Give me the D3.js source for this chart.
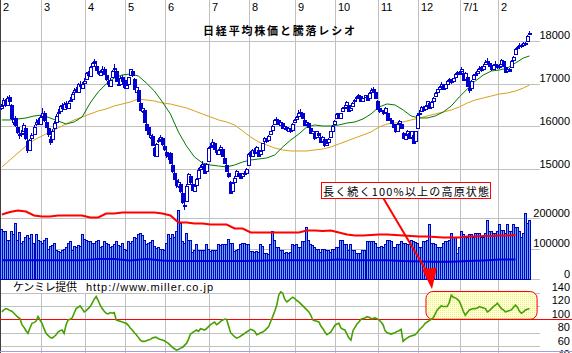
<!DOCTYPE html>
<html lang="ja">
<head>
  <meta charset="UTF-8">
  <title>日経平均株価と騰落レシオ</title>
  <script src="https://d3js.org/d3.v7.min.js"></script>
  <style>
    body { margin: 0; background: #fff; }
    svg { display: block; }
    text { font-family: "Liberation Sans", Arial, sans-serif; font-size: 11px; fill: #000; }
    .jp { font-family: "Noto Sans CJK JP", sans-serif; }
  </style>
</head>
<body>
<div id="chart"></div>
<script>
// month labels and trading days per month (Feb 2006 .. Feb 2007)
var monthLabels = ["2", "3", "4", "5", "6", "7", "8", "9", "10", "11", "12", "7/1", "2"];
var monthDays = [20, 22, 20, 20, 22, 20, 23, 20, 21, 20, 21, 19, 16];

// daily candles [open, high, low, close]
var candles = [
  // Feb
  [16420,16520,16380,16470],[16500,16660,16480,16620],[16600,16640,16450,16520],[16500,16700,16490,16650],[16680,16720,16540,16580],
  [16500,16520,16150,16190],[16100,16250,16030,16170],[16200,16230,15980,16020],[15980,16020,15820,15870],[15820,15900,15700,15790],
  [15830,15920,15760,15840],[15900,16080,15880,16020],[15950,15980,15690,15720],[15650,15700,15380,15440],[15450,15710,15420,15680],
  [15720,15850,15640,15800],[15830,16020,15800,15990],[16050,16180,16000,16110],[16150,16200,16020,16080],[16050,16260,16040,16210],
  // Mar
  [16250,16420,16220,16300],[16320,16350,16100,16150],[16100,16150,15950,15990],[15950,16000,15760,15820],[15700,15780,15560,15640],
  [15700,15930,15680,15900],[15950,16120,15900,16080],[16100,16280,16080,16250],[16300,16400,16250,16330],[16350,16500,16320,16480],
  [16500,16540,16380,16420],[16400,16560,16380,16530],[16550,16580,16420,16460],[16420,16580,16400,16550],[16600,16680,16560,16620],
  [16640,16800,16620,16760],[16800,16900,16760,16850],[16880,16920,16780,16830],[16800,17020,16790,16980],[17000,17050,16890,16930],
  [16900,17030,16880,17000],[17020,17120,16980,17060],
  // Apr
  [17100,17260,17080,17240],[17280,17300,17150,17200],[17180,17400,17160,17380],[17400,17500,17370,17470],[17520,17563,17420,17490],
  [17420,17450,17290,17320],[17300,17350,17200,17240],[17200,17320,17180,17280],[17300,17400,17260,17330],[17350,17380,17210,17230],
  [17200,17230,17060,17100],[17050,17080,16920,16980],[16950,17120,16930,17090],[17150,17320,17130,17300],[17350,17450,17300,17360],
  [17300,17320,17030,17050],[17000,17080,16940,16990],[17000,17170,16980,17140],[17150,17190,17010,17050],[17080,17120,16880,16910],
  // May
  [16900,17000,16860,16960],[16980,17160,16950,17150],[17200,17350,17180,17330],[17300,17320,17150,17190],[17100,17120,16850,16870],
  [16800,16960,16780,16920],[16850,16880,16580,16600],[16550,16580,16350,16390],[16350,16460,16300,16420],[16380,16400,16080,16100],
  [16050,16100,15880,15920],[15980,16000,15800,15830],[15750,15900,15700,15800],[15780,15820,15530,15570],[15500,15520,15280,15330],
  [15300,15620,15280,15590],[15650,15720,15600,15680],[15700,15800,15650,15760],[15720,15740,15550,15580],[15550,15600,15420,15470],
  // Jun
  [15400,15450,15250,15330],[15350,15400,15220,15300],[15380,15400,15120,15150],[15100,15150,14920,14950],[14900,14950,14740,14780],
  [14750,14800,14560,14630],[14600,14760,14550,14700],[14650,14700,14450,14500],[14450,14480,14180,14220],[14150,14300,14045,14170],
  [14250,14650,14230,14600],[14650,14900,14620,14880],[14850,14880,14650,14700],[14650,14700,14480,14520],[14480,14650,14460,14600],
  [14620,14800,14600,14780],[14800,15020,14780,14990],[15000,15100,14950,15050],[15080,15200,15050,15120],[15100,15130,14880,14900],
  [14950,15150,14930,15120],[15200,15520,15180,15500],
  // Jul
  [15550,15620,15480,15530],[15560,15700,15540,15630],[15600,15620,15450,15480],[15450,15480,15330,15390],[15350,15480,15330,15440],
  [15480,15560,15450,15520],[15480,15500,15280,15300],[15250,15280,15120,15150],[15100,15130,14930,14960],[14900,14950,14800,14850],
  [14700,14720,14430,14440],[14500,14700,14480,14680],[14700,14830,14680,14800],[14850,14980,14830,14950],[14900,14920,14820,14850],
  [14800,14870,14760,14820],[14850,14920,14830,14900],[14920,14950,14850,14880],[14900,15030,14880,15000],[15100,15380,15080,15350],
  // Aug
  [15400,15420,15250,15300],[15300,15480,15280,15450],[15450,15500,15350,15380],[15400,15550,15380,15520],[15450,15480,15280,15300],
  [15350,15450,15320,15420],[15450,15620,15430,15600],[15650,15750,15620,15720],[15700,15720,15600,15650],[15680,15800,15660,15780],
  [15820,15900,15800,15880],[15920,16020,15900,16000],[16050,16170,16030,16150],[16180,16220,16100,16180],[16150,16170,16020,16050],
  [16020,16120,16000,16100],[16080,16100,15930,15950],[15950,16030,15920,16000],[15980,16000,15900,15930],[15900,15980,15880,15960],
  [15950,15960,15850,15890],[15920,16070,15900,16050],[16100,16180,16080,16150],
  // Sep
  [16180,16250,16150,16220],[16250,16380,16230,16300],[16320,16400,16280,16330],[16300,16320,16180,16200],[16150,16170,16000,16030],
  [16050,16130,16030,16100],[16080,16100,15950,15980],[15950,15980,15820,15850],[15850,15930,15830,15900],[15850,15870,15690,15720],
  [15750,15900,15730,15880],[15850,15870,15770,15800],[15750,15780,15600,15640],[15650,15780,15630,15750],[15700,15720,15520,15560],
  [15560,15650,15540,15620],[15640,15730,15620,15710],[15750,15900,15730,15880],[15900,16020,15880,16000],[16050,16150,16030,16130],
  // Oct
  [16200,16320,16180,16280],[16300,16320,16180,16220],[16200,16320,16190,16300],[16350,16440,16330,16420],[16450,16500,16400,16460],
  [16500,16580,16480,16560],[16500,16520,16330,16350],[16380,16450,16360,16430],[16470,16560,16450,16540],[16580,16640,16550,16620],
  [16650,16700,16620,16680],[16700,16760,16680,16720],[16700,16720,16580,16600],[16600,16670,16580,16650],[16680,16740,16660,16720],
  [16700,16720,16600,16620],[16650,16800,16630,16780],[16800,16900,16780,16850],[16880,16920,16790,16820],[16800,16820,16640,16660],
  [16600,16620,16380,16400],
  // Nov
  [16420,16450,16320,16350],[16380,16420,16330,16380],[16350,16370,16270,16300],[16330,16450,16310,16420],[16300,16320,16130,16150],
  [16180,16250,16150,16200],[16150,16170,16050,16080],[16050,16080,15950,15980],[15950,15980,15850,15880],[15900,16080,15880,16060],
  [16080,16150,16060,16120],[16050,16080,15930,15950],[15850,15870,15700,15720],[15700,15800,15680,15790],[15820,15920,15800,15900],
  [15850,15870,15700,15730],[15750,15900,15730,15880],[15800,15820,15600,15620],[15650,15900,15630,15890],[15950,16300,15940,16270],
  // Dec
  [16300,16380,16270,16310],[16350,16470,16330,16450],[16450,16480,16360,16390],[16400,16500,16380,16480],[16500,16600,16480,16580],
  [16550,16570,16400,16420],[16450,16580,16430,16560],[16580,16680,16560,16650],[16700,16800,16680,16780],[16800,16880,16780,16860],
  [16880,16950,16860,16920],[16950,17030,16930,17000],[16980,17000,16850,16880],[16900,17000,16880,16980],[17000,17080,16980,17050],
  [17080,17140,17060,17110],[17080,17100,17000,17030],[17050,17140,17030,17120],[17150,17250,17130,17230],[17250,17300,17220,17260],
  [17280,17300,17200,17230],
  // Jan
  [17300,17380,17270,17350],[17250,17280,17060,17090],[17100,17260,17080,17240],[17150,17180,16920,16940],[16900,16950,16780,16840],
  [16900,17080,16880,17060],[17100,17220,17080,17200],[17220,17260,17150,17210],[17250,17330,17230,17300],[17330,17400,17310,17370],
  [17380,17400,17280,17310],[17350,17450,17330,17420],[17450,17540,17430,17500],[17520,17600,17480,17510],[17480,17500,17390,17420],
  [17380,17400,17300,17330],[17350,17460,17330,17440],[17450,17530,17430,17460],[17430,17460,17350,17380],
  // Feb
  [17400,17450,17350,17420],[17450,17580,17430,17550],[17520,17540,17380,17400],[17380,17400,17250,17280],[17300,17370,17280,17350],
  [17330,17360,17260,17300],[17380,17540,17370,17520],[17560,17650,17540,17620],[17700,17820,17680,17800],[17820,17880,17800,17850],
  [17870,17940,17860,17900],[17900,17920,17840,17880],[17900,17960,17880,17940],[17950,17970,17880,17920],[18000,18130,17990,18110],
  [18150,18230,18130,18190]
];

// daily volume
var volume = [
  166000,160000,157000,130000,128000,157000,150000,186000,130000,155000,
  120000,125000,140000,145000,135000,150000,120000,150000,130000,125000,
  120000,130000,135000,100000,110000,112000,120000,97000,92000,90000,
  95000,100000,105000,118000,124000,97000,110000,105000,112000,108000,
  147000,133000,128000,124000,124000,118000,120000,127000,130000,107000,
  110000,124000,118000,115000,107000,110000,115000,124000,112000,108000,
  120000,100000,97000,124000,120000,126000,140000,135000,150000,153000,
  145000,128000,115000,118000,122000,130000,108000,102000,105000,98000,
  100000,97000,120000,147000,135000,150000,140000,160000,229000,186000,
  125000,120000,153000,130000,128000,90000,95000,114000,97000,97000,
  95000,97000,114000,100000,94000,96000,97000,97000,117000,112000,
  117000,114000,114000,133000,120000,120000,92000,96000,100000,114000,
  118000,120000,114000,114000,92000,92000,90000,91000,90000,114000,
  110000,87000,85000,83000,117000,160000,130000,107000,107000,97000,
  97000,87000,88000,87000,90000,114000,112000,114000,107000,107000,
  124000,124000,170000,130000,117000,112000,107000,100000,100000,90000,
  100000,100000,97000,97000,90000,100000,100000,107000,107000,130000,
  130000,114000,114000,97000,117000,97000,97000,87000,87000,87000,
  97000,97000,124000,124000,124000,124000,120000,107000,107000,110000,
  107000,117000,130000,130000,124000,107000,107000,114000,114000,124000,
  120000,120000,114000,114000,130000,124000,122000,120000,107000,107000,
  124000,124000,130000,180000,120000,120000,114000,107000,107000,107000,
  120000,124000,127000,130000,153000,137000,137000,87000,107000,157000,
  147000,137000,137000,147000,147000,137000,153000,153000,153000,137000,
  137000,153000,196000,157000,157000,153000,153000,157000,180000,163000,
  163000,153000,180000,157000,157000,180000,170000,170000,157000,140000,
  153000,219000,186000,196000
];

// red line in the volume panel, every 4 trading days
var redLine = [
  212900,221000,226000,222700,209600,206300,206300,209600,209600,209600,
  209600,203000,203000,216000,216000,219500,219500,219500,219500,219500,
  216000,209600,186500,186500,183200,183200,179900,179900,179900,166700,
  166700,153500,153500,153500,153500,153500,153500,153500,160100,160100,
  158400,160100,153500,146900,143600,143600,145200,146900,146900,145200,
  143600,141900,140300,140300,138600,137000,137000,137000,140300,140300,
  141900,141900,143600,143600,145200
];

// blue line in the volume panel, every 8 trading days
var blueLine = [
  62000,62000,62000,62000,62000,62000,66000,66000,61000,66000,
  61000,59000,59000,59000,59000,59000,60000,62000,62000,62000,
  61000,64000,62000,62000,62000,59000,58000,57000,57000,59000,
  61000,64000,64000
];

// moving averages, every 4 trading days plus the last day
var ma25 = [
  16148,16148,16171,16194,16241,16264,16194,16124,16054,16101,16218,16545,16802,16989,17129,17199,17222,
  17176,17012,16825,16568,16288,15867,15540,15283,15143,15096,15073,15050,15096,15166,15213,15236,15260,
  15330,15517,15680,15820,15984,16031,16007,16007,16031,16077,16101,16171,16288,16451,16522,16498,16381,
  16241,16194,16194,16241,16334,16475,16685,16872,17059,17199,17292,17316,17362,17479,17596,17643
];
var ma75 = [
  15049,15213,15376,15540,15680,15774,15867,15961,16054,16148,16218,16288,16358,16405,16475,16521,16568,
  16638,16615,16591,16545,16521,16475,16428,16358,16288,16218,16148,16101,16031,15891,15750,15634,15563,
  15493,15447,15423,15423,15423,15447,15470,15517,15587,15657,15727,15797,15867,15984,16054,16078,16101,
  16148,16194,16241,16288,16334,16381,16451,16545,16615,16662,16708,16755,16778,16825,16895,16965
];

// daily advance/decline ratio (%)
var ratio = [
  111,114,116,115,113,112,109,106,103,101,
  92,88,83,79,87,94,95,97,104,99,
  94,86,79,76,73,72,74,77,81,83,
  84,79,92,99,100,102,109,116,118,120,
  116,111,113,116,119,124,130,134,128,121,
  116,112,109,108,110,109,110,99,98,97,
  96,95,94,91,87,84,80,77,73,69,
  67,67,68,69,70,72,73,73,71,70,
  69,68,66,64,61,58,56,54,55,57,
  58,61,64,70,78,80,82,84,82,86,
  85,84,86,89,92,94,96,92,94,97,
  99,100,100,90,80,77,74,72,73,75,
  77,79,81,83,85,84,82,77,78,80,
  81,83,86,89,97,104,112,121,136,141,
  139,130,126,128,131,133,131,128,126,123,
  120,117,114,111,106,99,98,97,96,90,
  86,81,77,79,81,86,91,93,94,87,
  85,84,78,72,69,83,88,93,96,100,
  101,102,104,103,101,101,102,101,99,96,
  92,83,80,79,78,79,80,82,83,85,
  67,70,72,74,75,76,77,80,84,87,
  90,94,96,98,100,102,108,114,117,120,
  119,119,119,125,136,133,132,130,127,120,
  112,106,110,114,115,116,116,117,119,118,
  117,116,111,113,116,119,121,124,120,116,
  114,111,112,113,114,118,121,118,112,109,
  111,114,115,116
];

var priceTicks = [15000, 16000, 17000, 18000];
var volumeTicks = [0, 100000, 200000];
var ratioTicks = [40, 60, 80, 100, 120, 140];

var title = "日経平均株価と騰落レシオ";
var credit = ["ケンミレ提供", "http://www.miller.co.jp"];
var note = { text: "長く続く100%以上の高原状態", from: 159.8, to: 243.8, top: 14700, bottom: 14330,
             arrowDay: 190.5, tipDay: 214.9, tipRatio: 145 };
var plateau = { from: 211.9, to: 267.3, top: 141.5, bottom: 100 };

var w = 572, h = 353;
var nDays = d3.sum(monthDays);
var monthStarts = [];
monthDays.reduce(function(s, d) { monthStarts.push(s); return s + d; }, 0);
var maDays = d3.range(0, 261, 4).concat([nDays - 1]);
var redDays = d3.range(0, 257, 4);
var blueDays = d3.range(0, 257, 8);

var blue = "#0000d0";

var svg = d3.select("#chart").append("svg")
  .attr("width", w)
  .attr("height", h);

var x = d3.scaleLinear().domain([0, nDays]).range([0.9, 530.5]);
var yPrice = d3.scaleLinear().domain([15000, 18000]).range([169.1, 40.7]);
var yVol = d3.scaleLinear().domain([0, 200000]).range([279, 218.4]);
var yRatio = d3.scaleLinear().domain([60, 140]).range([346.1, 292.5]);

function px(v) { return Math.round(v) + 0.5; }

var defs = svg.append("defs");
var pat = defs.append("pattern").attr("id", "dots")
  .attr("width", 2).attr("height", 2).attr("patternUnits", "userSpaceOnUse");
pat.append("rect").attr("width", 2).attr("height", 2).attr("fill", "#ffffd8");
pat.append("rect").attr("width", 1).attr("height", 1).attr("fill", "#eeee80");

// grid
var grid = svg.append("g").attr("stroke", "#c0c0c0").attr("stroke-width", 1);
grid.selectAll(".vline").data(monthStarts.slice(1)).enter().append("line")
  .attr("x1", d => Math.floor(x(d)) + 0.5).attr("x2", d => Math.floor(x(d)) + 0.5)
  .attr("y1", 0).attr("y2", h);

var hLines = priceTicks.map(t => yPrice(t))
  .concat(volumeTicks.map(t => yVol(t)))
  .concat(ratioTicks.filter(t => t !== 100).map(t => yRatio(t)));
grid.selectAll(".hline").data(hLines).enter().append("line")
  .attr("x1", 0).attr("x2", 540)
  .attr("y1", d => px(d)).attr("y2", d => px(d));

svg.append("line").attr("x1", 0.5).attr("x2", 0.5).attr("y1", 0).attr("y2", h)
  .attr("stroke", "#404040");

// month labels and title
svg.selectAll(".month").data(monthLabels).enter().append("text")
  .attr("x", (d, i) => Math.floor(x(monthStarts[i])) + 3)
  .attr("y", 11)
  .text(d => d);

svg.append("text").attr("class", "jp")
  .attr("x", 203).attr("y", 35)
  .attr("font-size", 12).attr("font-weight", "bold")
  .attr("textLength", 152).attr("lengthAdjust", "spacing")
  .text(title);

// moving averages
var maLine = d3.line().x((d, k) => x(maDays[k] + 0.5)).y(d => yPrice(d));
svg.append("path").attr("d", maLine(ma75)).attr("fill", "none").attr("stroke", "#d8a020").attr("stroke-width", 1);
svg.append("path").attr("d", maLine(ma25)).attr("fill", "none").attr("stroke", "#007a00").attr("stroke-width", 1);

// candles
var cg = svg.append("g");
cg.selectAll("line").data(candles).enter().append("line")
  .attr("x1", (d, i) => Math.floor(x(i + 0.5)) + 0.5)
  .attr("x2", (d, i) => Math.floor(x(i + 0.5)) + 0.5)
  .attr("y1", d => Math.round(yPrice(d[1])))
  .attr("y2", d => Math.round(yPrice(d[2])))
  .attr("stroke", blue);
cg.selectAll("rect").data(candles).enter().append("rect")
  .attr("x", (d, i) => Math.floor(x(i + 0.5)) - 0.5)
  .attr("width", 3)
  .attr("y", d => px(yPrice(Math.max(d[0], d[3]))))
  .attr("height", d => Math.max(1, px(yPrice(Math.min(d[0], d[3]))) - px(yPrice(Math.max(d[0], d[3])))))
  .attr("fill", d => d[3] >= d[0] ? "#fff" : blue)
  .attr("stroke", blue);

// volume
svg.append("g").selectAll("rect").data(volume).enter().append("rect")
  .attr("x", (d, i) => Math.floor(x(i)) + 0.5)
  .attr("width", 2)
  .attr("y", d => px(yVol(d)))
  .attr("height", d => px(yVol(0)) - px(yVol(d)))
  .attr("fill", "#66aaff")
  .attr("stroke", "#0000c0");

svg.append("path")
  .attr("d", d3.line().x((d, k) => x(redDays[k] + 0.5)).y(d => yVol(d))(redLine))
  .attr("fill", "none").attr("stroke", "#ff0000").attr("stroke-width", 2);
svg.append("path")
  .attr("d", d3.line().x((d, k) => x(blueDays[k] + 0.5)).y(d => yVol(d))(blueLine))
  .attr("fill", "none").attr("stroke", "#0000e0").attr("stroke-width", 2);

// credit
svg.append("rect").attr("x", 8).attr("y", 280).attr("width", 208).attr("height", 13).attr("fill", "#fff");
svg.append("text").attr("class", "jp").attr("x", 13).attr("y", 291)
  .attr("font-size", 11).attr("textLength", 64).attr("lengthAdjust", "spacing").text(credit[0]);
svg.append("text").attr("x", 86).attr("y", 291)
  .attr("font-size", 12).attr("textLength", 127).attr("lengthAdjust", "spacing").text(credit[1]);

// plateau highlight
svg.append("rect")
  .attr("x", x(plateau.from)).attr("y", yRatio(plateau.top))
  .attr("width", x(plateau.to) - x(plateau.from))
  .attr("height", yRatio(plateau.bottom) - yRatio(plateau.top))
  .attr("rx", 7).attr("ry", 7)
  .attr("fill", "url(#dots)").attr("stroke", "#ff0000").attr("stroke-width", 1);

svg.append("line").attr("x1", 0).attr("x2", w)
  .attr("y1", px(yRatio(100))).attr("y2", px(yRatio(100)))
  .attr("stroke", "#ff0000");

svg.append("path")
  .attr("d", d3.line().x((d, i) => x(i + 0.5)).y(d => yRatio(d))(ratio))
  .attr("fill", "none").attr("stroke", "#44a000").attr("stroke-width", 1.6);

// right-hand labels
var labels = priceTicks.map(t => [t, yPrice(t)])
  .concat(volumeTicks.map(t => [t, yVol(t)]))
  .concat(ratioTicks.map(t => [t, yRatio(t)]));
svg.selectAll(".ylab").data(labels).enter().append("text")
  .attr("x", 570).attr("y", d => d[1] - 1.5)
  .attr("text-anchor", "end")
  .text(d => d[0]);

// annotation
var bx0 = px(x(note.from)), bx1 = px(x(note.to));
var by0 = px(yPrice(note.top)), by1 = px(yPrice(note.bottom));
var ax0 = x(note.arrowDay), ay0 = yPrice(note.bottom);
var tipX = x(note.tipDay), tipY = yRatio(note.tipRatio);
var dir = [0.12, 0.993], hl = 21, hw = 7.5;
var baseX = tipX - hl * dir[0], baseY = tipY - hl * dir[1];
svg.append("line")
  .attr("x1", ax0).attr("y1", ay0).attr("x2", baseX - 4).attr("y2", baseY + 1)
  .attr("stroke", "#ff0000").attr("stroke-width", 2);
svg.append("path")
  .attr("d", "M" + tipX + "," + tipY +
    "L" + (baseX + hw * dir[1]) + "," + (baseY - hw * dir[0]) +
    "L" + (baseX - hw * dir[1]) + "," + (baseY + hw * dir[0]) + "Z")
  .attr("fill", "#ff0000");

svg.append("rect")
  .attr("x", bx0).attr("y", by0).attr("width", bx1 - bx0).attr("height", by1 - by0)
  .attr("fill", "#fff").attr("stroke", "#ff0000");
svg.append("text").attr("class", "jp")
  .attr("x", bx0 + 1.5).attr("y", by1 - 3)
  .attr("font-size", 13).attr("textLength", bx1 - bx0 - 3).attr("lengthAdjust", "spacing")
  .text(note.text);

svg.append("line").attr("x1", 0).attr("x2", w).attr("y1", 351.5).attr("y2", 351.5)
  .attr("stroke", "#a0a0e0");
</script>
</body>
</html>
